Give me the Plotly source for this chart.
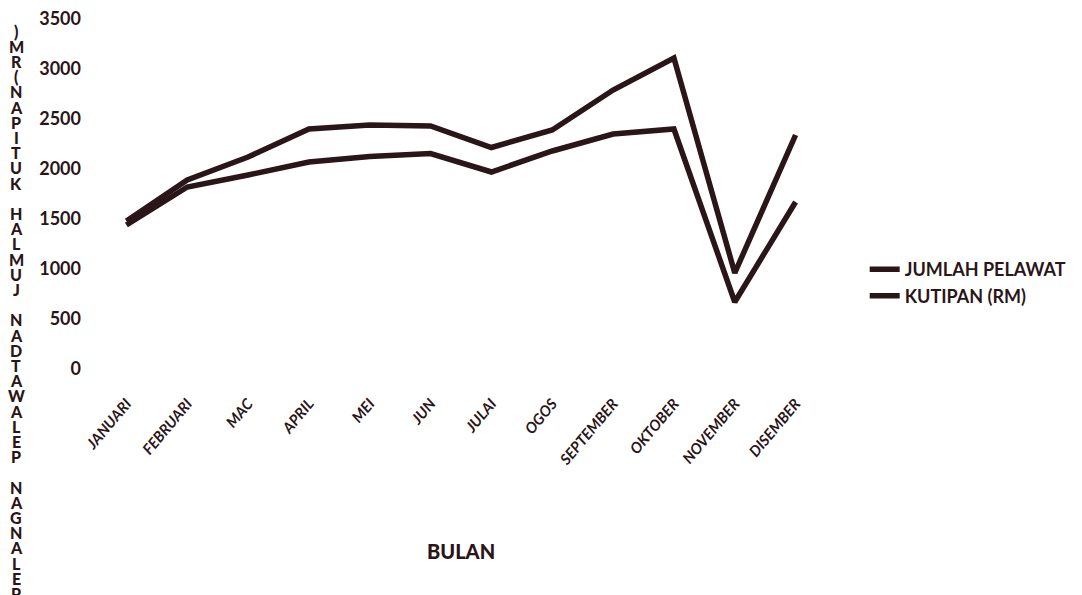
import plotly.graph_objects as go

BULAN = ["JANUARI", "FEBRUARI", "MAC", "APRIL", "MEI", "JUN", "JULAI",
         "OGOS", "SEPTEMBER", "OKTOBER", "NOVEMBER", "DISEMBER"]
JUMLAH_PELAWAT = [1480, 1890, 2120, 2400, 2440, 2430, 2215, 2390, 2790, 3110, 960, 2340]
KUTIPAN_RM = [1440, 1820, 1940, 2070, 2125, 2155, 1970, 2180, 2350, 2400, 670, 1670]
Y_TICKS = [0, 500, 1000, 1500, 2000, 2500, 3000, 3500]

# stacked (upright, reversed) y-axis title as in the original scan
Y_TITLE = ")MR(NAPITUK HALMUJ NADTAWALEP NAGNALEP"

INK = "#2a1518"
FONT = "Lato"

fig = go.Figure()
fig.add_trace(go.Scatter(x=BULAN, y=JUMLAH_PELAWAT, name="JUMLAH PELAWAT",
                         mode="lines", line=dict(color=INK, width=5.5)))
fig.add_trace(go.Scatter(x=BULAN, y=KUTIPAN_RM, name="KUTIPAN (RM)",
                         mode="lines", line=dict(color=INK, width=5.5)))

for i, ch in enumerate(Y_TITLE):
    if ch == " ":
        continue
    fig.add_annotation(text=ch, xref="paper", yref="paper", x=-0.109, y=1,
                       xanchor="center", yanchor="middle", yshift=-12 - i * 15.2,
                       showarrow=False,
                       font=dict(family=FONT, size=16, color=INK, weight=900))

# x-axis title placed well below the slanted month labels
fig.add_annotation(text="BULAN", xref="paper", yref="paper", x=0.5, y=0,
                   xanchor="center", yanchor="middle", yshift=-182, showarrow=False,
                   font=dict(family=FONT, size=20, color=INK, weight=900))

# page body adds an 8px offset, so the figure is sized to fit the window
fig.update_layout(
    width=1074, height=587,
    margin=dict(l=88, r=253, t=11, b=226),
    paper_bgcolor="white", plot_bgcolor="white",
    font=dict(family=FONT, color=INK),
    legend=dict(x=1.053, y=0.337, yanchor="top", xanchor="left",
                font=dict(family=FONT, size=18, color=INK, weight="bold"),
                tracegroupgap=12),
    xaxis=dict(showgrid=False, showline=False, zeroline=False, tickangle=-50,
               range=[-0.5, 11.5], automargin=False, ticklabelstandoff=22,
               tickfont=dict(family=FONT, size=15, color=INK, weight="bold", style="italic")),
    yaxis=dict(range=[0, 3500], tickvals=Y_TICKS, showgrid=False, showline=False,
               zeroline=False, ticklabelstandoff=14, automargin=False,
               ticklabeloverflow="allow",
               tickfont=dict(family=FONT, size=18, color=INK, weight="bold")),
)

fig.write_html("out.html")
